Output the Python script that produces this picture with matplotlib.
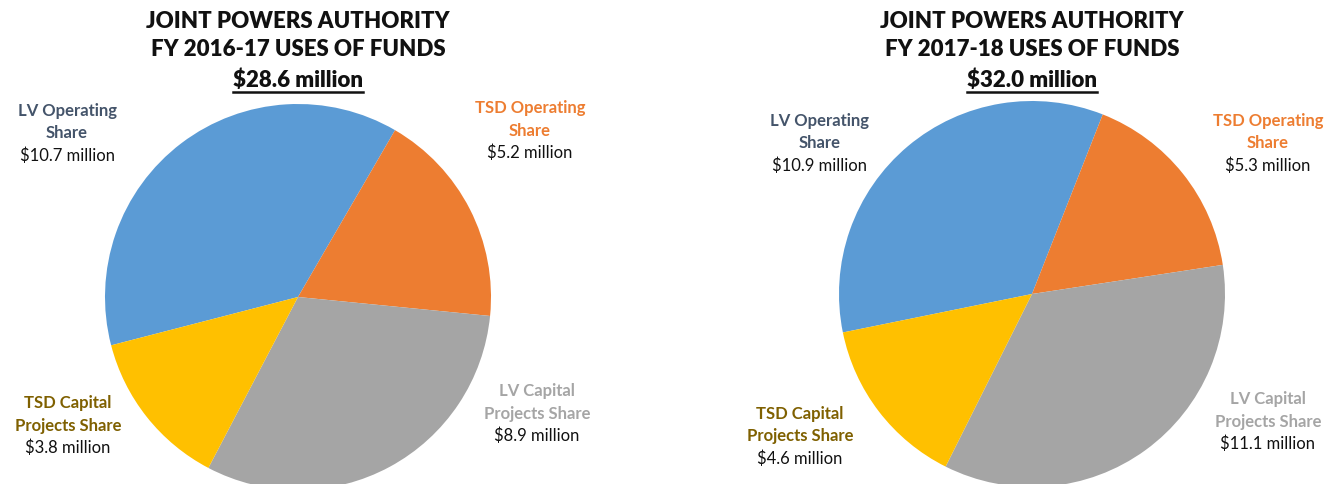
import matplotlib.pyplot as plt
from matplotlib.lines import Line2D

plt.rcParams['font.family'] = ['Lato', 'DejaVu Sans']

# slice order as drawn clockwise
categories = ['LV Operating Share', 'TSD Operating Share',
              'LV Capital Projects Share', 'TSD Capital Projects Share']
fy1617 = [10.7, 5.2, 8.9, 3.8]
fy1718 = [10.9, 5.3, 11.1, 4.6]
totals = ['$28.6 million', '$32.0 million']
years = ['FY 2016-17', 'FY 2017-18']

colors = ['#5B9BD5', '#ED7D31', '#A5A5A5', '#FFC000']
label_colors = ['#44546A', '#ED7D31', '#A5A5A5', '#7F6000']
label_names = [['LV Operating', 'Share'], ['TSD Operating', 'Share'],
               ['LV Capital', 'Projects Share'], ['TSD Capital', 'Projects Share']]

W, H = 1327, 484
fig = plt.figure(figsize=(W / 100, H / 100), dpi=100)

# pixel layout: pie centre, radius, start angle, centre of first label line
layouts = [
    dict(cx=298, cy=297, r=193, start=194.5,
         labels=[(67, 111), (530, 108), (537, 391), (68, 403)]),
    dict(cx=1032, cy=294, r=193, start=191.5,
         labels=[(820, 121), (1268, 121), (1268, 399), (800, 414)]),
]
step = 22.5

underline_texts = []
for data, lay, total, year in zip([fy1617, fy1718], layouts, totals, years):
    cx, cy, r = lay['cx'], lay['cy'], lay['r']
    ax = fig.add_axes([(cx - r) / W, (H - cy - r) / H, 2 * r / W, 2 * r / H])
    ax.pie(data, colors=colors, startangle=lay['start'], counterclock=False,
           radius=1, wedgeprops=dict(linewidth=0))
    ax.set_xlim(-1, 1)
    ax.set_ylim(-1, 1)
    ax.axis('off')

    # titles
    for text, ty in [('JOINT POWERS AUTHORITY', 22), (year + ' USES OF FUNDS', 50)]:
        fig.text(cx / W, 1 - ty / H, text, ha='center', va='center',
                 fontsize=16, fontweight='heavy', color='#111111')
    t = fig.text(cx / W, 1 - 80 / H, total, ha='center', va='center',
                 fontsize=16, fontweight='heavy', color='#111111')
    underline_texts.append(t)

    # slice labels
    for name, val, lc, (lx, ly) in zip(label_names, data, label_colors, lay['labels']):
        for i, line in enumerate(name):
            fig.text(lx / W, 1 - (ly + i * step) / H, line, ha='center', va='center',
                     fontsize=12, fontweight='bold', color=lc)
        fig.text(lx / W, 1 - (ly + len(name) * step) / H, '$%.1f million' % val,
                 ha='center', va='center', fontsize=12, color='#111111')

fig.canvas.draw()
renderer = fig.canvas.get_renderer()
for t in underline_texts:
    bb = t.get_window_extent(renderer)
    y = bb.y0 - 1
    fig.add_artist(Line2D([bb.x0 / W, bb.x1 / W], [y / H, y / H], color='#111111',
                          linewidth=1.8, transform=fig.transFigure))

fig.savefig('out.png', dpi=100, facecolor='white')
